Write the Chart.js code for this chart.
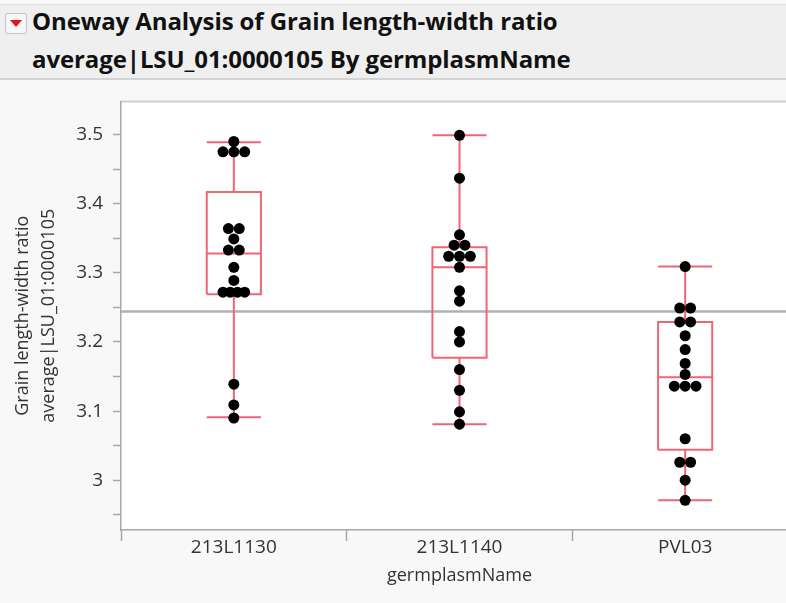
<!DOCTYPE html>
<html>
<head>
<meta charset="utf-8">
<script src="https://cdn.jsdelivr.net/npm/chart.js@4.4.1/dist/chart.umd.min.js"></script>
<style>
    html, body { margin: 0; padding: 0; }
    body { width: 786px; height: 603px; overflow: hidden; position: relative; background: #f8f8f8; font-family: "Open Sans", "Noto Sans", sans-serif; }
    #head { position: absolute; left: 0; top: 4px; width: 786px; height: 73px; background: #efefef; border-top: 1px solid #e2e2e2; border-bottom: 2px solid #d4d4d4; }
    #head .icon { position: absolute; left: 5px; top: 8px; width: 20px; height: 19px; border: 1px solid #c4c4c4; border-radius: 3px; background: #f6f6f6; }
    #head .icon:after { content: ''; position: absolute; left: 4px; top: 6px; border-left: 6px solid transparent; border-right: 6px solid transparent; border-top: 7px solid #e0141e; }
    #head .t { position: absolute; left: 32px; font-size: 24px; font-weight: 700; color: #111; line-height: 38px; white-space: nowrap; letter-spacing: -0.1px; }
    #wrap { position: absolute; left: 0; top: 80px; width: 810px; height: 523px; }
</style>
</head>
<body>
<div id="head">
    <span class="icon"></span>
    <div class="t" style="top:-3px">Oneway Analysis of Grain length-width ratio</div>
    <div class="t" style="top:35px">average|LSU_01:0000105 By germplasmName</div>
</div>
<div id="wrap"><canvas id="myChart" width="810" height="523"></canvas></div>
<script>
// values
const groups = ['213L1130', '213L1140', 'PVL03'];

const ratio213L1130 = [3.490, 3.475, 3.475, 3.475, 3.364, 3.364, 3.349, 3.333, 3.333, 3.308, 3.289, 3.272, 3.272, 3.272, 3.272, 3.139, 3.109, 3.090];
const ratio213L1140 = [3.499, 3.437, 3.355, 3.340, 3.340, 3.324, 3.324, 3.324, 3.308, 3.274, 3.259, 3.215, 3.200, 3.160, 3.130, 3.099, 3.081];
const ratioPVL03    = [3.309, 3.249, 3.249, 3.229, 3.229, 3.209, 3.189, 3.169, 3.153, 3.136, 3.136, 3.136, 3.060, 3.026, 3.026, 3.000, 2.971];

const q1          = [3.269, 3.177, 3.044];
const median      = [3.328, 3.308, 3.149];
const q3          = [3.417, 3.337, 3.229];
const whiskerLow  = [3.091, 3.081, 2.971];
const whiskerHigh = [3.489, 3.499, 3.309];

const grandMean = 3.244;

const yTicks = [2.95, 3.0, 3.05, 3.1, 3.15, 3.2, 3.25, 3.3, 3.35, 3.4, 3.45, 3.5];
const xTicks = [-0.5, 0, 0.5, 1, 1.5, 2, 2.5];

const boxColor = '#ee6674';
const boxHalf = 0.12;

// simple swarm: equal values share a row, spread around the group centre
function swarm(values, center) {
    const rows = {};
    values.forEach((v) => { (rows[v] = rows[v] || []).push(v) });
    const pts = [];
    Object.keys(rows).forEach((k) => {
        const n = rows[k].length;
        const step = n > 1 ? Math.min(0.048, 0.096 / (n - 1)) : 0;
        rows[k].forEach((v, i) => {
            pts.push({ x: center + (i - (n - 1) / 2) * step, y: v });
        });
    });
    return pts;
}

function boxPath() {
    let path = [];
    groups.forEach((g, i) => {
        const l = i - boxHalf, r = i + boxHalf;
        path.push(
            { x: l, y: q1[i] }, { x: r, y: q1[i] }, { x: r, y: q3[i] }, { x: l, y: q3[i] }, { x: l, y: q1[i] }, { x: i, y: null },
            { x: l, y: median[i] }, { x: r, y: median[i] }, { x: i, y: null },
            { x: i, y: q3[i] }, { x: i, y: whiskerHigh[i] }, { x: i, y: null },
            { x: l, y: whiskerHigh[i] }, { x: r, y: whiskerHigh[i] }, { x: i, y: null },
            { x: i, y: q1[i] }, { x: i, y: whiskerLow[i] }, { x: i, y: null },
            { x: l, y: whiskerLow[i] }, { x: r, y: whiskerLow[i] }, { x: i, y: null }
        );
    });
    return path;
}

const points = [
    ...swarm(ratio213L1130, 0),
    ...swarm(ratio213L1140, 1),
    ...swarm(ratioPVL03, 2),
];

const plotBackground = {
    id: 'plotBackground',
    beforeDraw(chart) {
        const { ctx, chartArea } = chart;
        ctx.save();
        ctx.fillStyle = '#ffffff';
        ctx.fillRect(chartArea.left, chartArea.top, chartArea.right - chartArea.left, chartArea.bottom - chartArea.top);
        ctx.strokeStyle = '#cfcfcf';
        ctx.lineWidth = 2;
        ctx.beginPath();
        ctx.moveTo(chartArea.left, chartArea.top);
        ctx.lineTo(chartArea.right, chartArea.top);
        ctx.stroke();
        ctx.restore();
    }
};

const ctx = document.getElementById('myChart').getContext('2d');

const config = {
    type: 'scatter',
    data: {
        datasets: [
            {
                label: 'values',
                data: points,
                pointRadius: 5.5,
                pointBackgroundColor: '#000000',
                pointBorderWidth: 0,
                order: 0,
            },
            {
                type: 'line',
                label: 'box',
                data: boxPath(),
                borderColor: boxColor,
                borderWidth: 2,
                pointRadius: 0,
                spanGaps: false,
                tension: 0,
                order: 1,
            },
            {
                type: 'line',
                label: 'grand mean',
                data: [{ x: -0.5, y: grandMean }, { x: 2.5, y: grandMean }],
                borderColor: '#b0b0b0',
                borderWidth: 2.5,
                pointRadius: 0,
                order: 2,
            },
        ]
    },
    options: {
        responsive: false,
        animation: false,
        layout: { padding: { top: 19, right: 12, left: 0, bottom: 0 } },
        plugins: {
            legend: { display: false },
            tooltip: { enabled: false },
        },
        scales: {
            x: {
                type: 'linear',
                min: -0.5,
                max: 2.5,
                afterBuildTicks: (scale) => { scale.ticks = xTicks.map((v) => ({ value: v })) },
                afterFit: (scale) => { scale.height = 73 },
                border: { color: '#a8a8a8', width: 1.5 },
                grid: {
                    drawOnChartArea: false,
                    drawTicks: true,
                    tickLength: 11,
                    tickColor: (c) => Number.isInteger(c.tick.value) ? 'rgba(0,0,0,0)' : '#a8a8a8',
                    tickWidth: 1.5,
                },
                ticks: {
                    autoSkip: false,
                    maxRotation: 0,
                    padding: -5,
                    color: '#333333',
                    font: { family: 'Open Sans', size: 19 },
                    callback: (v) => Number.isInteger(v) ? groups[v] : '',
                },
                title: {
                    display: true,
                    text: 'germplasmName',
                    color: '#333333',
                    font: { family: 'Open Sans', size: 18 },
                    padding: { top: 0, bottom: 16 },
                },
            },
            y: {
                min: 2.928,
                max: 3.548,
                afterBuildTicks: (scale) => { scale.ticks = yTicks.map((v) => ({ value: v })) },
                afterFit: (scale) => { scale.width = 121 },
                border: { color: '#a8a8a8', width: 1.5 },
                grid: {
                    drawOnChartArea: false,
                    drawTicks: true,
                    tickLength: 8,
                    tickColor: '#a8a8a8',
                    tickWidth: 1.5,
                },
                ticks: {
                    padding: 10,
                    color: '#333333',
                    font: { family: 'Open Sans', size: 19 },
                    callback: (v) => Math.round(v * 100) % 10 === 0 ? String(Number(v.toFixed(1))) : '',
                },
                title: {
                    display: true,
                    text: ['Grain length-width ratio', 'average|LSU_01:0000105'],
                    color: '#333333',
                    font: { family: 'Open Sans', size: 18, lineHeight: 1.45 },
                    padding: { top: 10, bottom: 0 },
                },
            },
        },
    },
    plugins: [plotBackground],
};

const myChart = new Chart(ctx, config);
</script>
</body>
</html>
